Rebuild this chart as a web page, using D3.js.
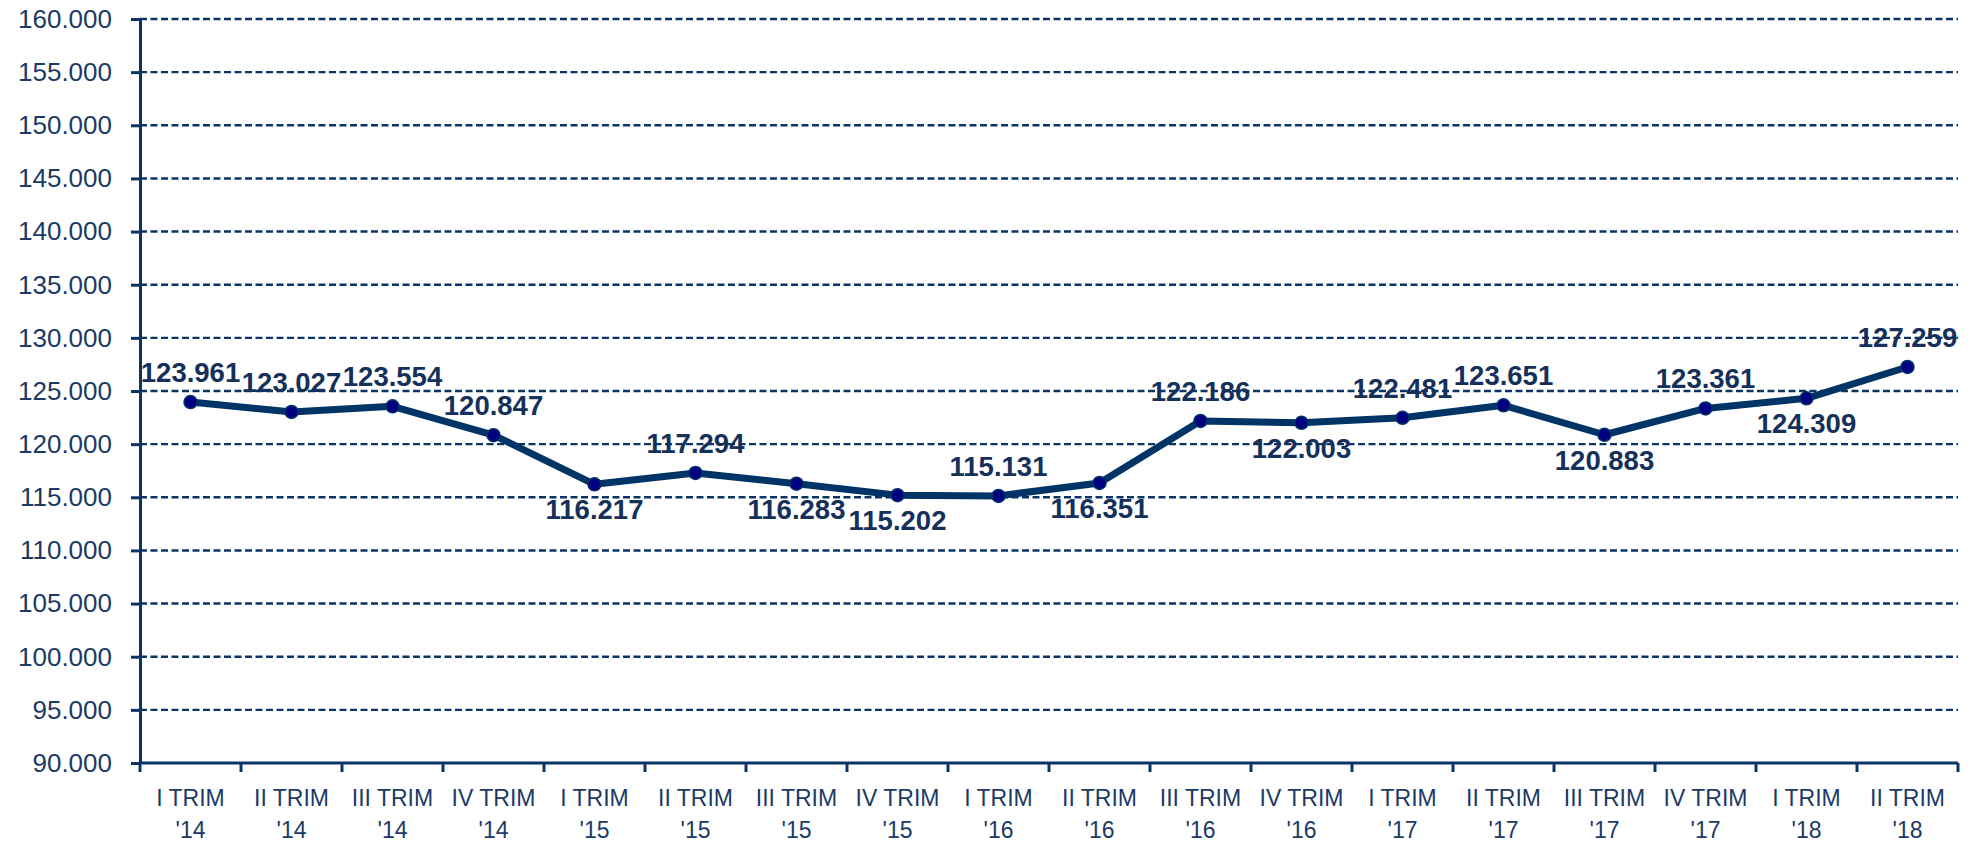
<!DOCTYPE html>
<html>
<head>
    <meta charset="utf-8">
    <style>
        body { margin: 0; background: #fff; }
        text { font-family: "Liberation Sans", Arial, sans-serif; fill: #1b3a66; }
        .grid line { stroke: #0b3466; stroke-width: 2.4; stroke-dasharray: 7 3.5; }
        .axis path, .axis line { stroke: #0b3466; stroke-width: 3; }
    </style>
</head>
<body>
<script src="https://cdn.jsdelivr.net/npm/d3@7"></script>
<script>
    var categories = ["I TRIM|'14", "II TRIM|'14", "III TRIM|'14", "IV TRIM|'14",
        "I TRIM|'15", "II TRIM|'15", "III TRIM|'15", "IV TRIM|'15",
        "I TRIM|'16", "II TRIM|'16", "III TRIM|'16", "IV TRIM|'16",
        "I TRIM|'17", "II TRIM|'17", "III TRIM|'17", "IV TRIM|'17",
        "I TRIM|'18", "II TRIM|'18"];
    var values = [123961, 123027, 123554, 120847, 116217, 117294, 116283, 115202, 115131,
        116351, 122186, 122003, 122481, 123651, 120883, 123361, 124309, 127259];
    // where each data label sits: 1 above the point, -1 below
    var labelSide = [1, 1, 1, 1, -1, 1, -1, -1, 1, -1, 1, -1, 1, 1, -1, 1, -1, 1];
    var yTicks = d3.range(90000, 160001, 5000);

    var width = 1976, height = 843,
        margin = {top: 19, right: 18, bottom: 80, left: 140};

    var svg = d3.select("body").append("svg")
        .attr("width", width)
        .attr("height", height);

    var x = d3.scaleBand()
        .domain(categories)
        .range([margin.left, width - margin.right]);

    var y = d3.scaleLinear()
        .domain([90000, 160000])
        .range([height - margin.bottom, margin.top]);

    var fmt = function(v) { return d3.format(",.0f")(v).replace(",", "."); };

    // dashed grid
    svg.append("g")
        .attr("class", "grid")
        .selectAll("line")
        .data(yTicks.slice(1))
        .enter().append("line")
        .attr("x1", margin.left)
        .attr("x2", width - margin.right)
        .attr("y1", function(d) { return y(d); })
        .attr("y2", function(d) { return y(d); });

    // y axis
    var yAxis = svg.append("g")
        .attr("class", "axis")
        .attr("transform", "translate(" + margin.left + ",0)")
        .call(d3.axisLeft(y).tickValues(yTicks).tickFormat(fmt).tickSize(9).tickSizeOuter(0));
    yAxis.selectAll("text")
        .attr("x", -28)
        .style("font-size", "26px");

    // x axis: ticks on category boundaries
    var xAxis = svg.append("g")
        .attr("class", "axis")
        .attr("transform", "translate(0," + y(90000) + ")");
    xAxis.append("line")
        .attr("x1", margin.left)
        .attr("x2", width - margin.right);
    xAxis.selectAll(".tk")
        .data(categories.concat(["end"]))
        .enter().append("line")
        .attr("class", "tk")
        .attr("x1", function(d, i) { return margin.left + i * x.step(); })
        .attr("x2", function(d, i) { return margin.left + i * x.step(); })
        .attr("y1", 0)
        .attr("y2", 9);

    var lbl = svg.append("g").selectAll("text")
        .data(categories)
        .enter().append("text")
        .attr("text-anchor", "middle")
        .style("font-size", "23px")
        .attr("x", function(d) { return x(d) + x.bandwidth() / 2; });
    lbl.append("tspan")
        .attr("x", function(d) { return x(d) + x.bandwidth() / 2; })
        .attr("y", y(90000) + 43)
        .text(function(d) { return d.split("|")[0]; });
    lbl.append("tspan")
        .attr("x", function(d) { return x(d) + x.bandwidth() / 2; })
        .attr("y", y(90000) + 75)
        .text(function(d) { return d.split("|")[1]; });

    var cx = function(d, i) { return x(categories[i]) + x.bandwidth() / 2; };

    // series line
    svg.append("path")
        .datum(values)
        .attr("fill", "none")
        .attr("stroke", "#003366")
        .attr("stroke-width", 7)
        .attr("stroke-linejoin", "round")
        .attr("d", d3.line().x(cx).y(function(d) { return y(d); }));

    svg.append("g").selectAll("circle")
        .data(values)
        .enter().append("circle")
        .attr("cx", cx)
        .attr("cy", function(d) { return y(d); })
        .attr("r", 6.5)
        .attr("fill", "#000080")
        .attr("stroke", "#003366")
        .attr("stroke-width", 1.5);

    // data labels
    svg.append("g").selectAll("text")
        .data(values)
        .enter().append("text")
        .attr("text-anchor", "middle")
        .style("font-size", "27.5px")
        .style("font-weight", "bold")
        .style("fill", "#15305a")
        .attr("x", cx)
        .attr("y", function(d, i) { return labelSide[i] > 0 ? y(d) - 20 : y(d) + 35; })
        .text(fmt);
</script>
</body>
</html>
